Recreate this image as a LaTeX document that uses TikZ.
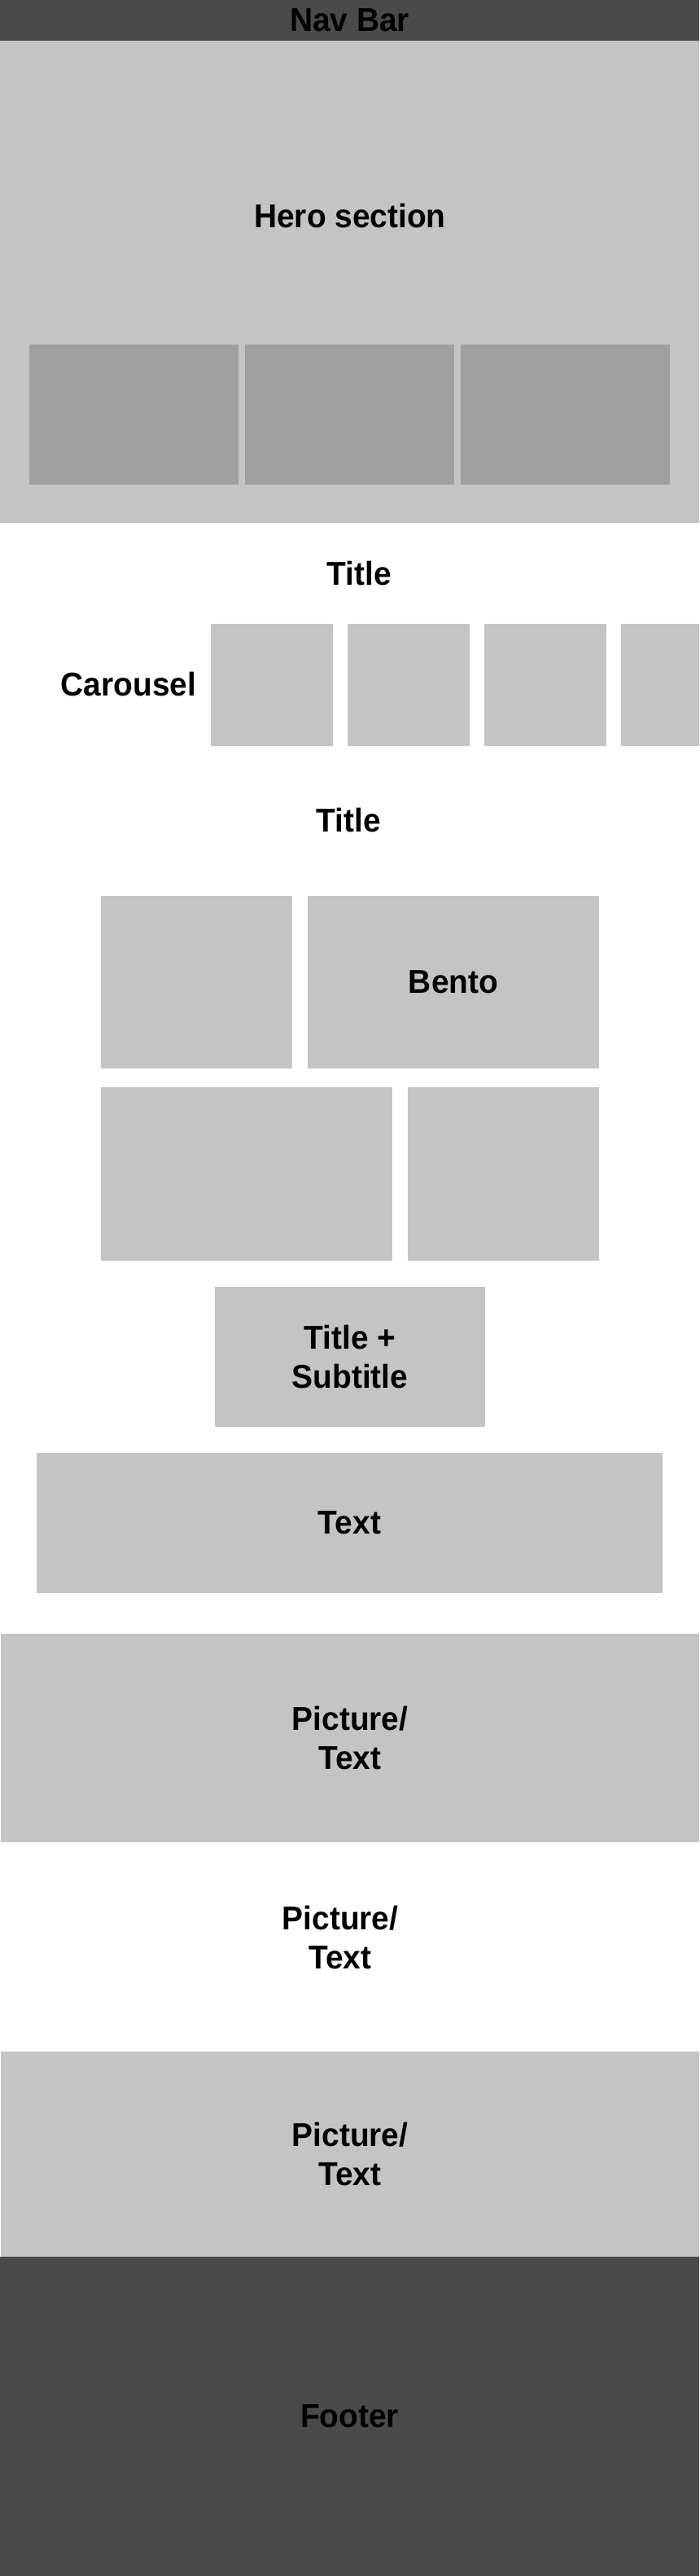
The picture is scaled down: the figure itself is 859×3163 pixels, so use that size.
\documentclass[tikz,border=0pt]{standalone}
\usepackage{fontspec}
\setmainfont[FakeStretch=0.96]{Liberation Sans}
\usetikzlibrary{positioning}
\definecolor{panelgrey}{HTML}{C4C4C4}
\definecolor{bargrey}{HTML}{4A4A4A}
\definecolor{cardgrey}{HTML}{9F9F9F}

\begin{document}
\begin{tikzpicture}[
            x=1pt, y=-1pt,
            node distance=19pt,
            panel/.style={rectangle, fill=panelgrey, inner sep=0pt, outer sep=0pt, align=center, font=\fontsize{40.5}{48}\selectfont\bfseries},
            bar/.style={panel, fill=bargrey},
            card/.style={panel, fill=cardgrey, minimum width=257pt, minimum height=172pt},
            slide/.style={panel, minimum width=150pt, minimum height=150pt},
            heading/.style={inner sep=0pt, outer sep=0pt, align=center, font=\fontsize{40.5}{48}\selectfont\bfseries}
        ]
        \useasboundingbox (0,0) rectangle (859,3163);
        \clip (0,0) rectangle (859,3163);

        % Nav bar and hero section
        \node[bar, minimum width=859pt, minimum height=50pt] (navbar) at (429.5,25) {Nav Bar};
        \node[panel, minimum width=859pt, minimum height=592pt] (hero) at (429.5,346) {};
        \node[heading] (herotitle) at (430,265) {Hero section};
        \node[card] (card1) at (164.5,509) {};
        \node[card, right=8pt of card1] (card2) {};
        \node[card, right=8pt of card2] (card3) {};

        % Carousel
        \node[heading] (title1) at (441,704) {Title};
        \node[heading] (carousel) at (158,840) {Carousel};
        \node[slide] (slide1) at (334,841) {};
        \node[slide, right=18pt of slide1] (slide2) {};
        \node[slide, right=18pt of slide2] (slide3) {};
        \node[slide, right=18pt of slide3] (slide4) {};

        % Bento grid
        \node[heading] (title2) at (428,1007) {Title};
        \node[panel, minimum width=235pt, minimum height=212pt] (bentotl) at (241.5,1206) {};
        \node[panel, minimum width=358pt, minimum height=212pt, right=of bentotl] (bentotr) {Bento};
        \node[panel, minimum width=358pt, minimum height=213pt, below right=23pt and 0pt of bentotl.south west] (bentobl) {};
        \node[panel, minimum width=235pt, minimum height=213pt, right=of bentobl] (bentobr) {};

        % Text blocks
        \node[panel, minimum width=332pt, minimum height=172pt] (subtitle) at (430,1666) {Title +\\Subtitle};
        \node[panel, minimum width=769pt, minimum height=172pt] (text) at (429.5,1870) {Text};
        \node[panel, minimum width=858pt, minimum height=256pt] (pictext1) at (430,2134) {Picture/\\Text};
        \node[heading] (pictext2) at (418,2378.5) {Picture/\\Text};
        \node[panel, minimum width=858pt, minimum height=252pt] (pictext3) at (430,2645) {Picture/\\Text};

        % Footer
        \node[bar, minimum width=859pt, minimum height=392pt] (footer) at (429.5,2967) {Footer};
    \end{tikzpicture}
\end{document}
